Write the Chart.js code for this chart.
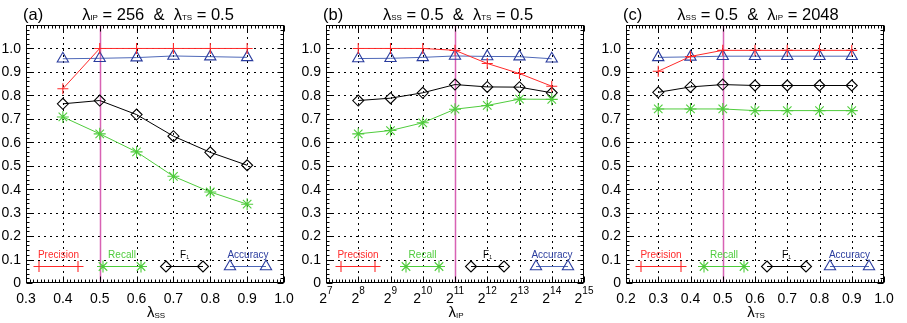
<!DOCTYPE html>
<html><head><meta charset="utf-8">
<script src="https://cdn.jsdelivr.net/npm/chart.js@4/dist/chart.umd.min.js"></script>
<style>
html,body{margin:0;padding:0;background:#fff;}
#wrap{display:flex;width:907px;height:323px;}
.panel{width:300px;height:323px;position:relative;flex:none;}
canvas{display:block;}
</style></head><body>
<div id="wrap">
<div class="panel"><canvas id="ca" width="300" height="323"></canvas></div>
<div class="panel"><canvas id="cb" width="300" height="323"></canvas></div>
<div class="panel"><canvas id="cc" width="300" height="323"></canvas></div>
</div>
<script>
// ---------- data ----------
const seriesNames = ['Precision', 'Recall', 'F1', 'Accuracy'];

const lambdaSS   = [0.4, 0.5, 0.6, 0.7, 0.8, 0.9];
const precisionA = [0.828, 1.0, 1.0, 1.0, 1.0, 1.0];
const recallA    = [0.708, 0.636, 0.559, 0.455, 0.388, 0.336];
const f1A        = [0.764, 0.778, 0.718, 0.626, 0.557, 0.502];
const accuracyA  = [0.956, 0.958, 0.961, 0.968, 0.965, 0.962];

const lambdaIP   = [256, 512, 1024, 2048, 4096, 8192, 16384];
const precisionB = [1.0, 1.0, 1.0, 0.992, 0.936, 0.893, 0.839];
const recallB    = [0.636, 0.650, 0.683, 0.741, 0.757, 0.784, 0.783];
const f1B        = [0.778, 0.788, 0.811, 0.846, 0.836, 0.835, 0.811];
const accuracyB  = [0.957, 0.958, 0.962, 0.968, 0.966, 0.965, 0.956];

const lambdaTS   = [0.3, 0.4, 0.5, 0.6, 0.7, 0.8, 0.9];
const precisionC = [0.903, 0.966, 0.992, 0.992, 0.992, 0.992, 0.992];
const recallC    = [0.742, 0.742, 0.742, 0.735, 0.735, 0.735, 0.735];
const f1C        = [0.813, 0.836, 0.846, 0.842, 0.842, 0.842, 0.842];
const accuracyC  = [0.962, 0.964, 0.967, 0.967, 0.967, 0.967, 0.967];

const yTicks      = [0, 0.1, 0.2, 0.3, 0.4, 0.5, 0.6, 0.7, 0.8, 0.9, 1.0];
const yTickLabels = ['0', '0.1', '0.2', '0.3', '0.4', '0.5', '0.6', '0.7', '0.8', '0.9', '1.0'];
const xTicksA     = [0.3, 0.4, 0.5, 0.6, 0.7, 0.8, 0.9, 1.0];
const xTickLabelsA= ['0.3', '0.4', '0.5', '0.6', '0.7', '0.8', '0.9', '1.0'];
const xTickExpB   = [7, 8, 9, 10, 11, 12, 13, 14, 15];
const xTicksC     = [0.2, 0.3, 0.4, 0.5, 0.6, 0.7, 0.8, 0.9, 1.0];
const xTickLabelsC= ['0.2', '0.3', '0.4', '0.5', '0.6', '0.7', '0.8', '0.9', '1.0'];
const chosenA = 0.5, chosenB = 2048, chosenC = 0.5;

// ---------- styles ----------
const FONT = '"Liberation Sans", Arial, Helvetica, sans-serif';
const COL = {
  p: '#ff2a2a', r: '#4fcc3c', f: '#000000', a: '#2a3c9e', aLine: '#4e68b8', v: '#d862b4'
};
const STYLE = [
  {color: COL.p, line: COL.p, point: 'cross', r: 5.5},
  {color: COL.r, line: COL.r, point: 'star', r: 6},
  {color: COL.f, line: COL.f, point: 'rectRot', r: 5.5},
  {color: COL.a, line: COL.aLine, point: 'triangle', r: 6.5}
];

function rich(ctx, parts, x, y, align, size, subRatio) {
  const sr = subRatio || 0.5;
  const fs = parts.map(p => p[1] === 'n' ? size : (p[1] === 'sub' ? Math.round(size * sr) : Math.round(size * 0.68)));
  let w = 0;
  parts.forEach((p, i) => { ctx.font = fs[i] + 'px ' + FONT; w += ctx.measureText(p[0]).width; });
  let cx = align === 'center' ? x - w / 2 : (align === 'right' ? x - w : x);
  ctx.textAlign = 'left';
  ctx.textBaseline = 'alphabetic';
  parts.forEach((p, i) => {
    ctx.font = fs[i] + 'px ' + FONT;
    const dy = p[1] === 'sup' ? -size * 0.62 : (p[1] === 'sub' ? 0.5 : 0);
    ctx.fillText(p[0], cx, y + dy);
    cx += ctx.measureText(p[0]).width;
  });
}

function marker(ctx, style, x, y, r) {
  ctx.beginPath();
  if (style === 'cross') {
    ctx.moveTo(x, y - r); ctx.lineTo(x, y + r); ctx.moveTo(x - r, y); ctx.lineTo(x + r, y);
  } else if (style === 'star') {
    const d = r * Math.SQRT1_2;
    ctx.moveTo(x, y - r); ctx.lineTo(x, y + r); ctx.moveTo(x - r, y); ctx.lineTo(x + r, y);
    ctx.moveTo(x - d, y - d); ctx.lineTo(x + d, y + d); ctx.moveTo(x - d, y + d); ctx.lineTo(x + d, y - d);
  } else if (style === 'rectRot') {
    ctx.moveTo(x, y - r); ctx.lineTo(x + r, y); ctx.lineTo(x, y + r); ctx.lineTo(x - r, y); ctx.closePath();
  } else if (style === 'triangle') {
    ctx.moveTo(x, y - r); ctx.lineTo(x + r * 0.866, y + r / 2); ctx.lineTo(x - r * 0.866, y + r / 2); ctx.closePath();
  }
  ctx.stroke();
}

function makePanel(id, cfg) {
  const plugin = {
    id: 'panelDeco' + id,
    beforeDatasetsDraw(chart) {
      const {ctx, chartArea: a, scales: {x, y}} = chart;
      ctx.save();
      const vx = Math.round(x.getPixelForValue(cfg.chosen)) + 0.5;
      // dotted grid
      ctx.strokeStyle = '#000'; ctx.lineWidth = 1; ctx.setLineDash([2, 4]);
      cfg.xTickVals.forEach(v => {
        const px = Math.round(x.getPixelForValue(v)) + 0.5;
        if (px > a.left + 2 && px < a.right - 2 && Math.abs(px - vx) > 1) {
          ctx.beginPath(); ctx.moveTo(px, a.top); ctx.lineTo(px, a.bottom); ctx.stroke();
        }
      });
      yTicks.forEach(v => {
        const py = Math.round(y.getPixelForValue(v)) + 0.5;
        if (py > a.top + 2 && py < a.bottom - 2) {
          ctx.beginPath(); ctx.moveTo(a.left, py); ctx.lineTo(a.right, py); ctx.stroke();
        }
      });
      ctx.setLineDash([]);
      // chosen parameter line
      ctx.strokeStyle = COL.v; ctx.lineWidth = 1.5;
      ctx.beginPath(); ctx.moveTo(vx, a.top); ctx.lineTo(vx, a.bottom); ctx.stroke();
      // frame
      ctx.strokeStyle = '#000'; ctx.lineWidth = 1;
      const L = Math.round(a.left) + 0.5, R = Math.round(a.right) - 0.5, T = Math.round(a.top) + 0.5, B = Math.round(a.bottom) - 0.5;
      ctx.strokeRect(L, T, R - L, B - T);
      // ticks
      ctx.beginPath();
      const xp = cfg.xTickVals.map(v => x.getPixelForValue(v));
      for (let i = 0; i < xp.length; i++) {
        const px = Math.round(xp[i]) + 0.5;
        ctx.moveTo(px, B); ctx.lineTo(px, B - 6); ctx.moveTo(px, T); ctx.lineTo(px, T + 6);
        if (i < xp.length - 1) {
          for (let k = 1; k < 10; k++) {
            const mx = Math.round(xp[i] + (xp[i + 1] - xp[i]) * k / 10) + 0.5;
            ctx.moveTo(mx, B); ctx.lineTo(mx, B - 3); ctx.moveTo(mx, T); ctx.lineTo(mx, T + 3);
          }
        }
      }
      for (let i = 0; i <= 55; i++) {
        const py = Math.round(y.getPixelForValue(i * 0.02)) + 0.5;
        const len = (i % 5 === 0) ? 6 : 3;
        ctx.moveTo(L, py); ctx.lineTo(L + len, py); ctx.moveTo(R, py); ctx.lineTo(R - len, py);
      }
      ctx.stroke();
      // tick labels
      ctx.fillStyle = '#000';
      ctx.font = '14px ' + FONT; ctx.textAlign = 'right'; ctx.textBaseline = 'middle';
      yTicks.forEach((v, i) => ctx.fillText(yTickLabels[i], a.left - 5, y.getPixelForValue(v) + 0.5));
      cfg.xTickVals.forEach((v, i) => {
        const px = x.getPixelForValue(v);
        if (cfg.xTickParts) rich(ctx, cfg.xTickParts[i], px, 303, 'center', 14);
        else { ctx.font = '14px ' + FONT; ctx.textAlign = 'center'; ctx.textBaseline = 'alphabetic'; ctx.fillText(cfg.xTickLabels[i], px, 302.5); }
      });
      // axis title
      rich(ctx, cfg.xTitle, (a.left + a.right) / 2 + 1, 317, 'center', 15);
      // panel title
      ctx.font = '16.5px ' + FONT; ctx.textAlign = 'left'; ctx.textBaseline = 'alphabetic';
      ctx.fillText(cfg.letter, 23, 19.5);
      rich(ctx, cfg.title, (a.left + a.right) / 2 + 3, 19.5, 'center', 16.5, 0.48);
      ctx.restore();
    },
    afterDatasetsDraw(chart) {
      const {ctx, chartArea: a} = chart;
      ctx.save();
      const yl = a.bottom - 16.5, yt = a.bottom - 25;
      cfg.legend.forEach((seg, i) => {
        const st = STYLE[i];
        const x0 = a.left + seg[0], x1 = a.left + seg[1];
        ctx.strokeStyle = st.line; ctx.lineWidth = 1;
        ctx.beginPath(); ctx.moveTo(x0, yl); ctx.lineTo(x1, yl); ctx.stroke();
        ctx.strokeStyle = st.color; ctx.lineWidth = 1.1;
        marker(ctx, st.point, x0, yl, st.r);
        marker(ctx, st.point, x1, yl, st.r);
        ctx.fillStyle = st.color;
        const name = seriesNames[i];
        const parts = name === 'F1' ? [['F', 'n'], ['1', 'sub']] : [[name, 'n']];
        rich(ctx, parts, (x0 + x1) / 2, yt, 'center', 10);
      });
      ctx.restore();
    }
  };

  const datasets = cfg.series.map((vals, i) => ({
    label: seriesNames[i],
    data: cfg.xs.map((xv, j) => ({x: xv, y: vals[j]})),
    borderColor: STYLE[i].line,
    borderWidth: 1,
    pointStyle: STYLE[i].point,
    pointRadius: STYLE[i].r,
    pointBorderColor: STYLE[i].color,
    pointBackgroundColor: 'rgba(0,0,0,0)',
    pointBorderWidth: 1.1,
    fill: false,
    tension: 0
  }));

  new Chart(document.getElementById(id), {
    type: 'line',
    data: {datasets},
    options: {
      responsive: false,
      animation: false,
      events: [],
      layout: {padding: {top: 25, right: 16, left: 0, bottom: 0}},
      plugins: {legend: {display: false}, tooltip: {enabled: false}, title: {display: false}},
      scales: {
        x: Object.assign({
          min: cfg.xmin, max: cfg.xmax,
          ticks: {display: false},
          grid: {display: false},
          border: {display: false},
          afterBuildTicks: s => { s.ticks = cfg.xTickVals.map(v => ({value: v})); },
          afterFit: s => { s.height = 40; }
        }, cfg.xType ? {type: cfg.xType} : {type: 'linear'}),
        y: {
          type: 'linear', min: 0, max: 1.1,
          ticks: {display: false},
          grid: {display: false},
          border: {display: false},
          afterBuildTicks: s => { s.ticks = yTicks.map(v => ({value: v})); },
          afterFit: s => { s.width = 26; }
        }
      }
    },
    plugins: [plugin]
  });
}

makePanel('ca', {
  letter: '(a)',
  title: [['λ', 'n'], ['IP', 'sub'], [' = 256  &  λ', 'n'], ['TS', 'sub'], [' = 0.5', 'n']],
  xTitle: [['λ', 'n'], ['SS', 'sub']],
  xs: lambdaSS, series: [precisionA, recallA, f1A, accuracyA],
  xmin: 0.3, xmax: 1.0, xTickVals: xTicksA, xTickLabels: xTickLabelsA,
  chosen: chosenA,
  legend: [[13, 52], [77, 115], [140, 177], [204, 240]]
});
makePanel('cb', {
  letter: '(b)',
  title: [['λ', 'n'], ['SS', 'sub'], [' = 0.5  &  λ', 'n'], ['TS', 'sub'], [' = 0.5', 'n']],
  xTitle: [['λ', 'n'], ['IP', 'sub']],
  xs: lambdaIP, series: [precisionB, recallB, f1B, accuracyB],
  xType: 'logarithmic',
  xmin: 2 ** 7, xmax: 2 ** 15, xTickVals: xTickExpB.map(e => 2 ** e),
  xTickParts: xTickExpB.map(e => [['2', 'n'], [String(e), 'sup']]),
  chosen: chosenB,
  legend: [[15, 49], [80, 113], [145, 178], [210, 242]]
});
makePanel('cc', {
  letter: '(c)',
  title: [['λ', 'n'], ['SS', 'sub'], [' = 0.5  &  λ', 'n'], ['IP', 'sub'], [' = 2048', 'n']],
  xTitle: [['λ', 'n'], ['TS', 'sub']],
  xs: lambdaTS, series: [precisionC, recallC, f1C, accuracyC],
  xmin: 0.2, xmax: 1.0, xTickVals: xTicksC, xTickLabels: xTickLabelsC,
  chosen: chosenC,
  legend: [[15, 55], [78, 118], [141, 180], [204, 243]]
});
</script>
</body></html>
